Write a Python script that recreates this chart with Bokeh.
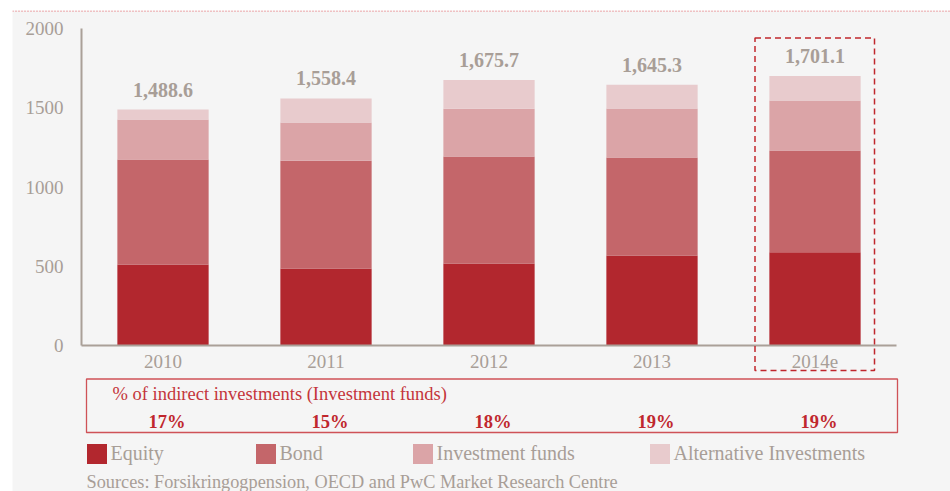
from bokeh.plotting import figure
from bokeh.models import (ColumnDataSource, FixedTicker, Range1d, BoxAnnotation, Span,
                          Legend, LegendItem)
from bokeh.core.properties import value
from bokeh.embed import file_html
from bokeh.resources import INLINE

# ---------------- data ----------------
years = ["2010", "2011", "2012", "2013", "2014e"]
equity = [511, 486, 517, 568, 589]
bond = [662, 679, 675, 618, 641]
investment_funds = [253, 242, 301, 309, 316]
alternative = [62.6, 151.4, 182.7, 150.3, 155.1]
totals = [1488.6, 1558.4, 1675.7, 1645.3, 1701.1]
indirect_pct = ["17%", "15%", "18%", "19%", "19%"]
series_names = ["Equity", "Bond", "Investment funds", "Alternative Investments"]
y_ticks = [0, 500, 1000, 1500, 2000]

colors = ["#b2272e", "#c4666a", "#dba4a7", "#e8cbcd"]
GRAY = "#a89e97"
RED = "#c0272d"
FONT = "Liberation Serif"

# ---------------- page geometry (pixels) ----------------
X0, SX = 162.5, 163.0            # page x of first bar centre, px per category
Y0, SY = 345.0, 317.0 / 2000.0   # page y of value 0, px per unit
FL, FT = 12, 10                  # frame left / top on the page


def dx(px):
    return (px - X0) / SX


def dy(py):
    return (Y0 - py) / SY


W, H = 950, 491
xs = list(range(len(years)))

source = ColumnDataSource(dict(
    x=xs, equity=equity, bond=bond, funds=investment_funds, alt=alternative,
    total=totals, total_label=[f"{v:,.1f}" for v in totals],
    pct=indirect_pct, pct_y=[dy(421)] * len(years),
))

p = figure(width=W, height=H, output_backend="svg", toolbar_location=None,
           x_range=Range1d(dx(FL), dx(W)), y_range=Range1d(dy(H), dy(FT)),
           min_border_left=FL, min_border_top=FT, min_border_right=0, min_border_bottom=0)
p.background_fill_color = "#f5f5f5"
p.border_fill_color = "white"
p.outline_line_color = None
p.grid.visible = False

# axes
ya = p.yaxis[0]
ya.fixed_location = -0.5
ya.bounds = (0, 2000)
ya.ticker = FixedTicker(ticks=y_ticks)
xa = p.xaxis[0]
xa.fixed_location = 0
xa.bounds = (-0.5, 4.5)
xa.ticker = FixedTicker(ticks=xs)
xa.major_label_overrides = {i: y for i, y in zip(xs, years)}
for ax in (ya, xa):
    ax.axis_line_color = "#aaa098"
    ax.axis_line_width = 2
    ax.major_tick_line_color = None
    ax.minor_tick_line_color = None
    ax.major_label_text_font = FONT
    ax.major_label_text_font_size = "19px"
    ax.major_label_text_color = GRAY
ya.major_label_standoff = 12
xa.major_label_standoff = 3

# bars
rs = p.vbar_stack(["equity", "bond", "funds", "alt"], x="x", width=0.56,
                  color=colors, line_color=None, source=source)

# totals
p.text(x="x", y="total", text="total_label", source=source, text_align="center",
       text_baseline="alphabetic", y_offset=-20, text_font=value(FONT),
       text_font_size="20px", text_font_style="bold", text_color=GRAY)

# highlight box for estimate
p.add_layout(BoxAnnotation(left=dx(754.5), right=dx(874), top=dy(37.5), bottom=dy(370),
                           fill_alpha=0, line_color=RED, line_alpha=1, line_width=1.5,
                           line_dash="6 4"))

# indirect investments box
p.add_layout(BoxAnnotation(left=dx(86), right=dx(897), top=dy(378.5), bottom=dy(432),
                           fill_alpha=0, line_color="#cf5257", line_alpha=1, line_width=1.3))
p.text(x=[dx(112)], y=[dy(393)], text=["% of indirect investments (Investment funds)"],
       text_align="left", text_baseline="middle", text_font=value(FONT),
       text_font_size="18.5px", text_color="#c4353b")
p.text(x="x", y="pct_y", text="pct", source=source, text_align="center",
       text_baseline="middle", x_offset=4, text_font=value(FONT),
       text_font_size="18.5px", text_font_style="bold", text_color=RED)

# legend, one block per entry (area legend glyphs are drawn at 80% of the box)
GLY = 25
leg_sq = [86, 255, 412, 649]
for name, r, sx in zip(series_names, rs, leg_sq):
    leg = Legend(items=[LegendItem(label=name, renderers=[r])],
                 location=(sx - 2.5 - FL, H - 465.5),
                 orientation="horizontal", glyph_width=GLY, glyph_height=GLY,
                 label_standoff=2, padding=0, margin=0, spacing=0, label_height=GLY,
                 border_line_alpha=0, background_fill_alpha=0,
                 label_text_font=FONT, label_text_font_size="20px",
                 label_text_color=GRAY)
    p.add_layout(leg, "center")

# sources
p.text(x=[dx(86)], y=[dy(481)], text=["Sources: Forsikringogpension, OECD and PwC Market Research Centre"],
       text_align="left", text_baseline="middle", text_font=value(FONT),
       text_font_size="18.3px", text_color=GRAY)

# dotted rule at top
p.add_layout(Span(location=dy(10.5), dimension="width", line_color="#e02a32",
                  line_width=1, line_dash="1 2"))

open("out.html", "w").write(file_html(p, INLINE))
